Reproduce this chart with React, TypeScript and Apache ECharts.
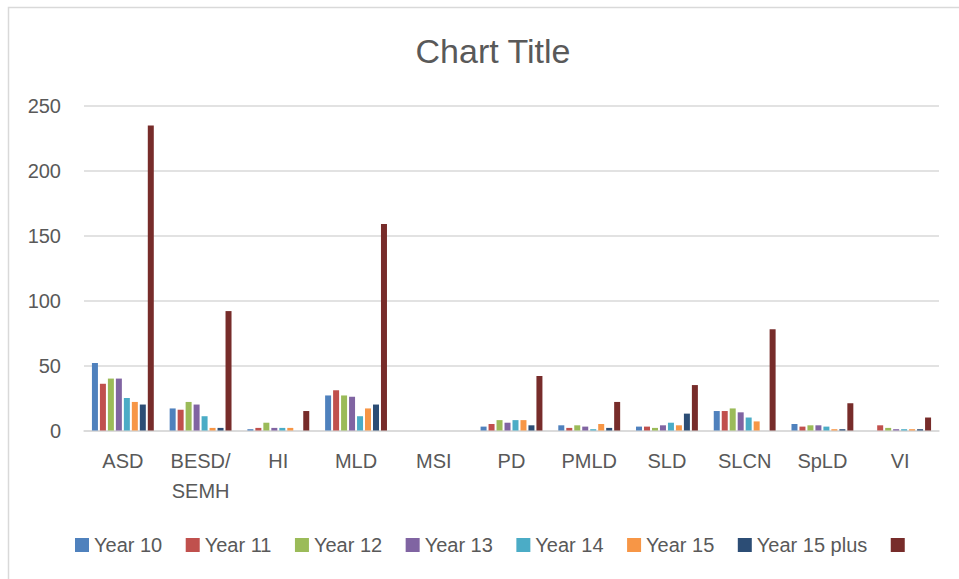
import React, { useEffect, useRef } from "react";
import * as echarts from "echarts";

const categories = ["ASD", "BESD/\nSEMH", "HI", "MLD", "MSI", "PD", "PMLD", "SLD", "SLCN", "SpLD", "VI"];
const seriesNames = ["Year 10", "Year 11", "Year 12", "Year 13", "Year 14", "Year 15", "Year 15 plus", " "];
const year10 = [52, 17, 1, 27, 0, 3, 4, 3, 15, 5, 0];
const year11 = [36, 16, 2, 31, 0, 5, 2, 3, 15, 3, 4];
const year12 = [40, 22, 6, 27, 0, 8, 4, 2, 17, 4, 2];
const year13 = [40, 20, 2, 26, 0, 6, 3, 4, 14, 4, 1];
const year14 = [25, 11, 2, 11, 0, 8, 1, 6, 10, 3, 1];
const year15 = [22, 2, 2, 17, 0, 8, 5, 4, 7, 1, 1];
const year15plus = [20, 2, 0, 20, 0, 4, 2, 13, 0, 1, 1];
const unnamed = [235, 92, 15, 159, 0, 42, 22, 35, 78, 21, 10];
const seriesValues = [year10, year11, year12, year13, year14, year15, year15plus, unnamed];
const colors = ["#4F81BD", "#C0504D", "#9BBB59", "#8064A2", "#4BACC6", "#F79646", "#2C4D75", "#772C2A"];
const yTicks = { min: 0, max: 250, interval: 50 };

const FONT = "'Liberation Sans', Arial, sans-serif";
const TEXT = "#595959";

export default function App() {
  const ref = useRef<HTMLDivElement>(null);
  useEffect(() => {
    if (!ref.current) return;
    const chart = echarts.init(ref.current, null, { renderer: "svg" });
    chart.setOption({
      animation: false,
      color: colors,
      textStyle: { fontFamily: FONT },
      title: {
        text: "Chart Title",
        left: 488,
        textAlign: "center",
        top: 29,
        textStyle: { fontFamily: FONT, fontSize: 34, fontWeight: "normal", color: TEXT },
      },
      graphic: [
        {
          type: "rect",
          shape: { x: 8.5, y: 7.5, width: 1200, height: 1200 },
          style: { fill: "none", stroke: "#d9d9d9", lineWidth: 1.5 },
          silent: true,
        },
      ],
      legend: {
        data: seriesNames,
        left: 70,
        top: 530,
        icon: "rect",
        itemWidth: 14,
        itemHeight: 14,
        itemGap: 23.5,
        textStyle: { fontFamily: FONT, fontSize: 20, color: TEXT },
      },
      grid: { left: 84, right: 20, top: 106, bottom: 148.5, containLabel: false },
      xAxis: {
        type: "category",
        data: categories,
        axisTick: { show: false },
        axisLine: { lineStyle: { color: "#d9d9d9", width: 1.5 } },
        axisLabel: { fontFamily: FONT, fontSize: 20, color: TEXT, margin: 15, lineHeight: 30, interval: 0 },
      },
      yAxis: {
        type: "value",
        min: yTicks.min,
        max: yTicks.max,
        interval: yTicks.interval,
        axisLine: { show: false },
        axisTick: { show: false },
        splitLine: { lineStyle: { color: "#d9d9d9", width: 1.5 } },
        axisLabel: { fontFamily: FONT, fontSize: 20, color: TEXT, margin: 23 },
      },
      series: seriesNames.map((name, i) => ({
        name,
        type: "bar",
        data: seriesValues[i],
        barWidth: 6,
        barGap: "33%",
        itemStyle: { color: colors[i] },
      })),
    });
    return () => chart.dispose();
  }, []);
  return (
    <div
      ref={ref}
      style={{ position: "fixed", left: 0, top: 0, width: 959, height: 579, background: "#fff" }}
    />
  );
}
